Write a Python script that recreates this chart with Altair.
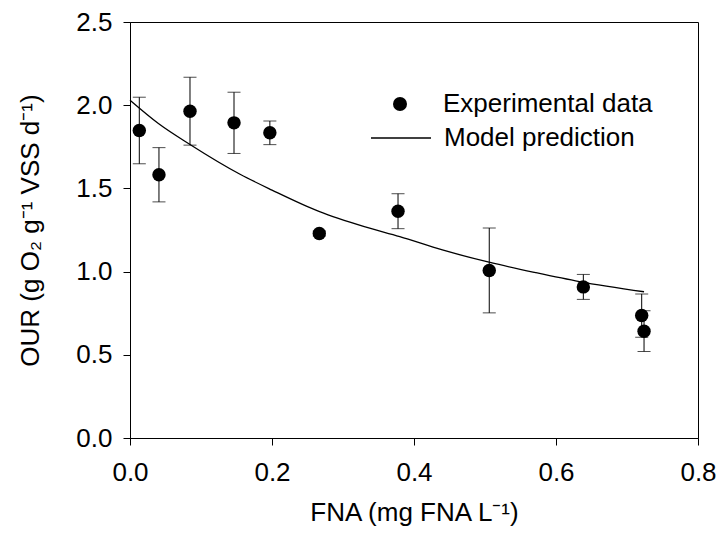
import altair as alt
import pandas as pd

fna = [0.0131, 0.0408, 0.0845, 0.1465, 0.197, 0.2666, 0.3775, 0.506, 0.6385, 0.7207, 0.724]
our = [1.848, 1.582, 1.964, 1.894, 1.834, 1.229, 1.363, 1.007, 0.908, 0.736, 0.642]
sd = [0.200, 0.163, 0.204, 0.184, 0.071, 0.015, 0.105, 0.255, 0.075, 0.130, 0.122]

# Model prediction curve
model_fna = [0.0, 0.04, 0.0845, 0.155, 0.20, 0.267, 0.33, 0.38, 0.44, 0.507, 0.57, 0.633, 0.724]
model_our = [2.03, 1.89, 1.764, 1.585, 1.49, 1.36, 1.27, 1.21, 1.13, 1.055, 0.995, 0.94, 0.879]

series_names = ["Experimental data", "Model prediction"]
x_ticks = [0.0, 0.2, 0.4, 0.6, 0.8]
y_ticks = [0.0, 0.5, 1.0, 1.5, 2.0, 2.5]

exp_df = pd.DataFrame({
    "FNA": fna,
    "OUR": our,
    "lo": [o - s for o, s in zip(our, sd)],
    "hi": [o + s for o, s in zip(our, sd)],
    "series": series_names[0],
})
model_df = pd.DataFrame({"FNA": model_fna, "OUR": model_our, "series": series_names[1]})

FONT = "Liberation Sans"
xscale = alt.Scale(domain=[0, 0.8], nice=False, zero=False, padding=0)
yscale = alt.Scale(domain=[0, 2.5], nice=False, zero=False, padding=0)

xaxis = alt.Axis(
    values=x_ticks, format=".1f", title="FNA (mg FNA L⁻¹)",
    titleX=284, titleY=82, titleAlign="center", titleBaseline="alphabetic",
    labelPadding=14, labelFlush=False, ticks=True, tickSize=7, tickColor="black", tickWidth=1,
)
yaxis = alt.Axis(
    values=y_ticks, format=".1f", title="OUR (g O₂ g⁻¹ VSS d⁻¹)",
    titleX=-92, titleY=208, titleAngle=270, titleAlign="center", titleBaseline="alphabetic",
    labelPadding=11, labelFlush=False, ticks=True, tickSize=7, tickColor="black", tickWidth=1,
)

X = alt.X("FNA:Q", scale=xscale, axis=xaxis)

legend_common = dict(
    title=None, orient="none", labelFontSize=26, labelFont=FONT,
    labelColor="black", labelLimit=0, padding=0,
)

line = alt.Chart(model_df).mark_line(strokeWidth=1.3, interpolate="monotone").encode(
    x=X,
    y=alt.Y("OUR:Q", scale=yscale, axis=yaxis),
    stroke=alt.Stroke(
        "series:N",
        scale=alt.Scale(domain=[series_names[1]], range=["black"]),
        legend=alt.Legend(
            legendX=240, legendY=85, symbolType="stroke", symbolSize=3600,
            symbolStrokeWidth=1.3, labelOffset=12, **legend_common,
        ),
    ),
)

bars = alt.Chart(exp_df).mark_rule(color="black", strokeWidth=1).encode(
    x=X,
    y=alt.Y("lo:Q", scale=yscale, axis=yaxis),
    y2="hi:Q",
)
caps_hi = alt.Chart(exp_df).mark_tick(color="black", orient="horizontal", size=13, thickness=1).encode(
    x=X,
    y=alt.Y("hi:Q", scale=yscale, axis=yaxis),
)
caps_lo = alt.Chart(exp_df).mark_tick(color="black", orient="horizontal", size=13, thickness=1).encode(
    x=X,
    y=alt.Y("lo:Q", scale=yscale, axis=yaxis),
)

points = alt.Chart(exp_df).mark_circle(size=180, opacity=1).encode(
    x=X,
    y=alt.Y("OUR:Q", scale=yscale, axis=yaxis),
    fill=alt.Fill(
        "series:N",
        scale=alt.Scale(domain=[series_names[0]], range=["black"]),
        legend=alt.Legend(
            legendX=257, legendY=69, symbolType="circle", symbolSize=196,
            labelOffset=30, **legend_common,
        ),
    ),
)

chart = alt.layer(line, bars, caps_hi, caps_lo, points).properties(
    width=568, height=416,
    autosize=alt.AutoSizeParams(type="none"),
    padding={"left": 130, "top": 22, "right": 21, "bottom": 105},
).resolve_legend(
    stroke="independent", fill="independent",
).configure_view(
    stroke="black", strokeWidth=1,
).configure_axis(
    grid=False, domainColor="black", domainWidth=1,
    labelFont=FONT, labelFontSize=26, labelColor="black",
    titleFont=FONT, titleFontSize=26, titleColor="black", titleFontWeight="normal",
)

chart.save("out.html", embed_options={"renderer": "svg", "actions": False})
